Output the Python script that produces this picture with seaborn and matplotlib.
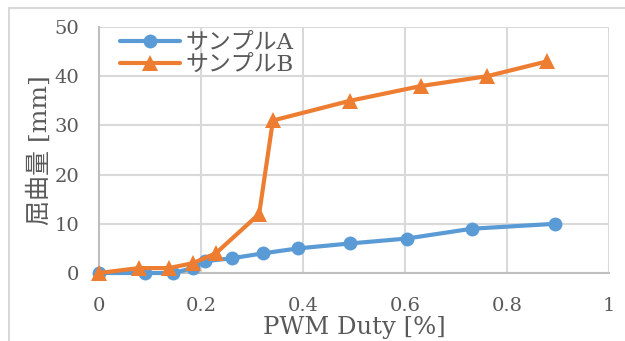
import matplotlib
matplotlib.use("Agg")
import matplotlib.pyplot as plt
import seaborn as sns
import pandas as pd
from matplotlib.patches import Rectangle

# Bending amount vs. PWM duty for two samples
duty_a = [0.0, 0.09, 0.145, 0.185, 0.208, 0.261, 0.322, 0.39, 0.492, 0.603, 0.731, 0.894]
bend_a = [0.0, 0.0, 0.0, 1.0, 2.4, 3.0, 4.0, 5.0, 6.0, 7.0, 9.0, 10.0]

duty_b = [0.0, 0.078, 0.137, 0.184, 0.229, 0.314, 0.341, 0.492, 0.631, 0.761, 0.878]
bend_b = [0.0, 1.0, 1.0, 2.0, 4.0, 12.0, 31.0, 35.0, 38.0, 40.0, 43.0]

label_a = "サンプルA"
label_b = "サンプルB"
x_label = "PWM Duty [%]"
y_label = "屈曲量 [mm]"
x_ticks = [0, 0.2, 0.4, 0.6, 0.8, 1]
x_tick_labels = ["0", "0.2", "0.4", "0.6", "0.8", "1"]
y_ticks = [0, 10, 20, 30, 40, 50]

sns.set_theme(style="white")
plt.rcParams["font.family"] = ["DejaVu Serif", "Noto Sans CJK JP"]

text_color = "#595959"
grid_color = "#d9d9d9"
axis_color = "#bfbfbf"
blue = "#5B9BD5"
orange = "#ED7D31"

df_a = pd.DataFrame({"duty": duty_a, "bend": bend_a})
df_b = pd.DataFrame({"duty": duty_b, "bend": bend_b})

fig = plt.figure(figsize=(6.25, 3.41), dpi=100)
ax = fig.add_axes([0.1584, 0.1994, 0.8160, 0.7214])

# Outer chart frame
fig.patches.append(Rectangle((9 / 625, -0.1), 1.2, (341 - 8) / 341 + 0.1,
                             transform=fig.transFigure, fill=False,
                             edgecolor=grid_color, linewidth=1.5, zorder=0))

sns.lineplot(data=df_a, x="duty", y="bend", ax=ax, color=blue, linewidth=3,
             marker="o", markersize=10, markeredgewidth=0, label=label_a,
             zorder=3, clip_on=False)
sns.lineplot(data=df_b, x="duty", y="bend", ax=ax, color=orange, linewidth=3,
             marker="^", markersize=11, markeredgewidth=0, label=label_b,
             zorder=4, clip_on=False)

ax.set_xlim(0, 1)
ax.set_ylim(0, 50)
ax.set_xticks(x_ticks)
ax.set_xticklabels(x_tick_labels)
ax.set_yticks(y_ticks)
ax.grid(True, color=grid_color, linewidth=1.5)
ax.set_axisbelow(True)

for side in ["top", "right"]:
    ax.spines[side].set_visible(False)
for side in ["left", "bottom"]:
    ax.spines[side].set_color(axis_color)
    ax.spines[side].set_linewidth(1.5)
    ax.spines[side].set_zorder(2)

ax.tick_params(axis="both", which="major", direction="out", length=5,
               width=1.5, color=axis_color, labelcolor=text_color,
               labelsize=14)
ax.tick_params(axis="x", pad=12)
ax.tick_params(axis="y", pad=9)

ax.set_xlabel(x_label, fontsize=17.5, color=text_color, labelpad=1)
ax.set_ylabel(y_label, fontsize=18, color=text_color, labelpad=2)

leg = ax.legend(loc="upper left", bbox_to_anchor=(0.015, 1.035), frameon=False,
                fontsize=16.5, handlelength=2.6, handletextpad=0.25,
                labelspacing=0.0, borderaxespad=0.2)
for t in leg.get_texts():
    t.set_color(text_color)

fig.savefig("out.png", dpi=100)
